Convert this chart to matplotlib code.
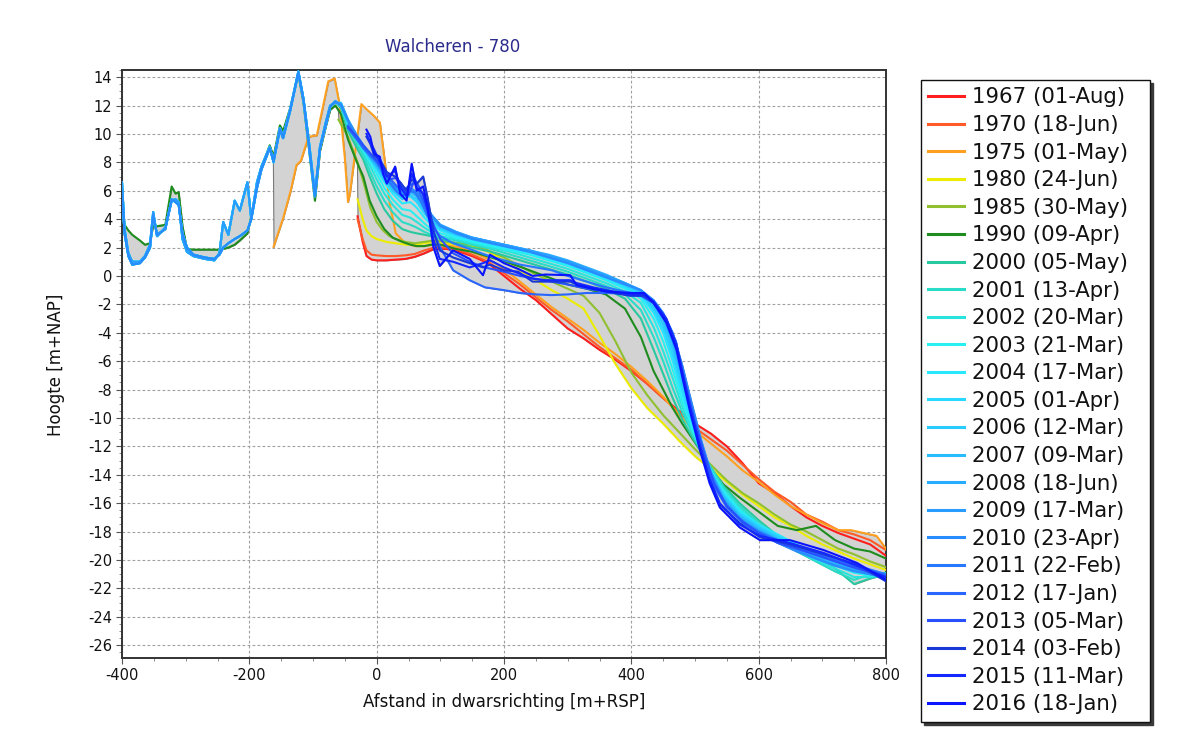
import numpy as np
import matplotlib
matplotlib.use('Agg')
import matplotlib.pyplot as plt
from matplotlib.lines import Line2D
from matplotlib.ticker import MultipleLocator

plt.rcParams['axes.unicode_minus'] = False
plt.rcParams['font.family'] = ['DejaVu Sans']

# ---------------- data ----------------
labels = ["1967 (01-Aug)", "1970 (18-Jun)", "1975 (01-May)", "1980 (24-Jun)",
          "1985 (30-May)", "1990 (09-Apr)", "2000 (05-May)", "2001 (13-Apr)",
          "2002 (20-Mar)", "2003 (21-Mar)", "2004 (17-Mar)", "2005 (01-Apr)",
          "2006 (12-Mar)", "2007 (09-Mar)", "2008 (18-Jun)", "2009 (17-Mar)",
          "2010 (23-Apr)", "2011 (22-Feb)", "2012 (17-Jan)", "2013 (05-Mar)",
          "2014 (03-Feb)", "2015 (11-Mar)", "2016 (18-Jan)"]
colors = ['#ff1e1e', '#ff5a28', '#ffa020', '#ecec00', '#90c030', '#1e8c1e',
          '#28c8a0', '#28dcc8', '#28e4dc', '#28f0f0', '#28e8ff', '#28d8ff',
          '#28ccff', '#28bcff', '#28acff', '#289cff', '#288cff', '#2878ff',
          '#2866ff', '#2850ff', '#1838d8', '#1428ff', '#0a14ff']

# dune part (shared x positions)
dune_x = [-400, -396, -390, -384, -372, -364, -356, -351, -345, -332, -322, -316,
          -311, -305, -298, -288, -270, -255, -247, -241, -233, -223, -215, -203,
          -197, -188, -181, -168, -162, -152, -147, -136, -123, -115, -106, -97,
          -89, -80, -73, -65]
dune_cyan_a = [6.0, 3.0, 1.4, 0.8, 0.9, 1.3, 2.0, 4.3, 2.9, 3.3, 5.4, 5.2,
               5.0, 3.0, 2.0, 1.5, 1.3, 1.2, 1.5, 2.0, 2.3, 2.6, 2.8, 3.2,
               4.0, 6.2, 7.5, 9.0, 8.1, 10.3, 9.7, 11.6, 14.3, 12.4, 9.0, 5.6,
               9.0, 10.6, 11.9, 12.3]
dune_cyan_b = [6.6, 3.3, 1.6, 1.0, 1.0, 1.4, 2.2, 4.5, 2.8, 3.4, 5.3, 5.4,
               5.2, 2.6, 1.7, 1.4, 1.2, 1.1, 1.6, 3.8, 2.9, 5.3, 4.6, 6.6,
               4.0, 6.6, 7.7, 9.1, 8.0, 10.4, 9.8, 11.7, 14.4, 12.5, 9.3, 5.8,
               9.1, 10.8, 12.0, 12.2]
dune_1990 = [5.3, 3.6, 3.2, 2.9, 2.5, 2.2, 2.3, 3.6, 3.5, 3.6, 6.3, 5.8,
             5.9, 3.5, 1.9, 1.85, 1.85, 1.85, 1.85, 1.9, 2.0, 2.2, 2.5, 3.0,
             4.2, 6.3, 7.6, 9.2, 8.4, 10.6, 10.2, 11.8, 14.2, 12.2, 8.8, 5.3,
             8.8, 10.5, 11.7, 12.0]

# seaward part for 1990 and 2000-2010
sea_x = [-56, -45, -31, -21, -11, 0, 12, 25, 40, 53, 63, 75, 86, 100, 125,
         150, 180, 210, 240, 270, 300, 330, 360, 390, 415, 435, 450, 465, 480,
         495, 510, 525, 545, 570, 600, 630, 660, 690, 720, 750, 775, 800]
sea_1990 = [11.4, 9.6, 8.0, 7.0, 5.3, 4.2, 3.3, 2.7, 2.4, 2.2, 2.1, 2.1, 2.2, 2.2, 1.9,
            1.7, 1.3, 0.9, 0.4, -0.1, -0.6, -0.9, -1.3, -2.3, -4.3, -6.7, -8.0, -9.3, -10.4,
            -11.4, -12.4, -13.6, -14.7, -15.6, -16.6, -17.6, -17.9, -17.6, -18.6, -19.2, -19.4, -19.9]
sea_2000 = [11.8, 10.2, 9.0, 8.2, 7.0, 5.8, 4.7, 3.9, 3.3, 3.1, 3.0, 2.9, 2.8, 2.6, 2.3,
            2.0, 1.7, 1.3, 0.9, 0.5, 0.1, -0.4, -0.9, -1.6, -3.0, -5.2, -6.9, -8.6, -10.1,
            -11.3, -12.4, -13.5, -14.8, -16.0, -17.2, -18.3, -19.2, -19.9, -20.6, -21.7, -21.3, -21.0]
sea_2001 = [12.0, 10.5, 9.3, 8.5, 7.4, 6.3, 5.3, 4.5, 3.8, 3.6, 3.4, 3.1, 2.9, 2.7, 2.5,
            2.2, 1.9, 1.5, 1.1, 0.7, 0.3, -0.2, -0.7, -1.3, -2.4, -4.3, -6.0, -7.9, -9.6,
            -11.0, -12.3, -13.5, -14.9, -16.2, -17.4, -18.4, -19.4, -20.1, -20.8, -21.4, -21.0, -20.9]
sea_2002 = [11.9, 10.6, 9.5, 8.7, 7.8, 6.8, 5.8, 5.0, 4.3, 4.1, 3.8, 3.4, 3.1, 2.8, 2.6,
            2.3, 2.0, 1.7, 1.3, 0.9, 0.5, 0.0, -0.5, -1.1, -1.9, -3.6, -5.3, -7.2, -9.2,
            -10.9, -12.4, -13.7, -15.1, -16.4, -17.5, -18.5, -19.3, -20.0, -20.6, -21.2, -21.2, -21.1]
sea_2003 = [12.1, 10.8, 9.6, 8.9, 8.1, 7.2, 6.2, 5.4, 4.7, 4.6, 4.2, 3.7, 3.3, 3.0, 2.7,
            2.4, 2.1, 1.8, 1.5, 1.1, 0.7, 0.2, -0.3, -0.9, -1.6, -3.0, -4.6, -6.6, -8.8,
            -10.6, -12.3, -13.7, -15.2, -16.5, -17.6, -18.4, -19.1, -19.8, -20.4, -20.9, -21.1, -21.2]
sea_2004 = [12.0, 10.7, 9.7, 9.0, 8.3, 7.5, 6.6, 5.8, 5.1, 5.2, 4.8, 4.1, 3.6, 3.2, 2.8,
            2.5, 2.2, 1.9, 1.6, 1.2, 0.8, 0.3, -0.2, -0.8, -1.4, -2.6, -4.0, -6.0, -8.4,
            -10.4, -12.2, -13.8, -15.3, -16.6, -17.5, -18.2, -18.9, -19.6, -20.3, -20.8, -21.0, -21.3]
sea_2005 = [12.1, 10.9, 9.8, 9.0, 8.4, 7.7, 6.9, 6.1, 5.5, 5.6, 5.2, 4.4, 3.8, 3.3, 2.9,
            2.6, 2.3, 2.0, 1.7, 1.3, 0.9, 0.4, -0.1, -0.7, -1.3, -2.4, -3.7, -5.6, -8.0,
            -10.2, -12.1, -13.8, -15.4, -16.7, -17.6, -18.3, -19.0, -19.7, -20.3, -20.7, -21.0, -21.2]
sea_2006 = [12.0, 10.8, 9.7, 9.0, 8.3, 7.6, 6.8, 6.0, 5.4, 5.7, 5.4, 4.6, 3.9, 3.4, 2.9,
            2.6, 2.3, 2.0, 1.7, 1.4, 1.0, 0.5, 0.0, -0.6, -1.2, -2.2, -3.4, -5.2, -7.6,
            -9.9, -12.0, -13.8, -15.5, -16.8, -17.7, -18.4, -19.1, -19.7, -20.2, -20.6, -20.9, -21.1]
sea_2007 = [12.2, 11.0, 9.8, 9.1, 8.5, 7.9, 7.0, 6.2, 5.6, 5.9, 5.6, 4.8, 4.0, 3.5, 3.0,
            2.7, 2.4, 2.1, 1.8, 1.4, 1.0, 0.5, 0.0, -0.5, -1.1, -2.0, -3.1, -4.8, -7.2,
            -9.6, -11.9, -13.8, -15.6, -16.9, -17.8, -18.5, -19.2, -19.8, -20.3, -20.6, -20.8, -21.0]
sea_2008 = [12.0, 10.9, 9.7, 9.0, 8.4, 7.8, 7.0, 6.3, 5.7, 6.0, 5.7, 5.0, 4.2, 3.6, 3.1,
            2.7, 2.4, 2.1, 1.8, 1.5, 1.1, 0.6, 0.1, -0.5, -1.0, -1.9, -2.9, -4.5, -6.9,
            -9.4, -11.8, -13.8, -15.7, -17.0, -17.9, -18.6, -19.3, -19.8, -20.3, -20.7, -20.9, -21.1]
sea_2009 = [12.1, 11.0, 9.9, 9.2, 8.6, 8.0, 7.2, 6.4, 5.8, 6.1, 5.8, 5.1, 4.3, 3.6, 3.1,
            2.7, 2.4, 2.1, 1.8, 1.4, 1.0, 0.5, 0.0, -0.5, -1.0, -1.8, -2.7, -4.2, -6.6,
            -9.2, -11.7, -13.9, -15.8, -17.1, -18.0, -18.7, -19.3, -19.9, -20.4, -20.7, -21.0, -21.2]
sea_2010 = [12.0, 10.9, 9.8, 9.2, 8.6, 8.0, 7.3, 6.5, 5.9, 6.2, 5.9, 5.2, 4.3, 3.5, 3.0,
            2.6, 2.3, 2.0, 1.7, 1.3, 0.9, 0.4, -0.1, -0.6, -1.0, -1.7, -2.6, -4.0, -6.3,
            -9.0, -11.6, -13.9, -15.9, -17.2, -18.1, -18.8, -19.4, -19.9, -20.4, -20.8, -21.0, -21.3]

# 1967, 1970, 1980 (profiles start near the dune foot)
foot_x = [-30, -22, -16, -8, 0, 15, 30, 45, 60, 75, 90, 110, 130, 150, 175, 200, 225,
          250, 275, 300, 325, 350, 375, 400, 425, 450, 475, 500, 525, 550, 575, 600,
          625, 650, 675, 700, 725, 750, 775, 800]
y_1967 = [4.2, 2.4, 1.4, 1.15, 1.1, 1.1, 1.15, 1.2, 1.35, 1.6, 1.9, 1.9, 1.7, 1.4, 0.9, 0.0, -0.9,
          -1.7, -2.7, -3.7, -4.4, -5.2, -5.9, -6.7, -7.6, -8.6, -9.5, -10.4, -11.1, -12.0, -13.2, -14.6,
          -15.3, -16.2, -17.0, -17.6, -18.1, -18.5, -18.9, -19.7]
y_1970 = [4.0, 2.6, 1.8, 1.5, 1.45, 1.4, 1.4, 1.45, 1.55, 1.8, 2.0, 2.0, 1.8, 1.5, 1.0, 0.2, -0.6,
          -1.5, -2.4, -3.2, -4.1, -5.0, -5.8, -6.6, -7.6, -8.6, -9.6, -10.7, -11.5, -12.3, -13.3, -14.3,
          -15.2, -15.9, -16.8, -17.3, -17.9, -18.2, -18.6, -19.3]
y_1980 = [5.4, 4.0, 3.2, 2.8, 2.6, 2.4, 2.3, 2.2, 2.2, 2.3, 2.4, 2.3, 2.2, 2.1, 1.7, 1.1, 0.4,
          -0.3, -1.0, -1.6, -2.3, -4.2, -6.2, -7.9, -9.3, -10.4, -11.6, -12.7, -13.6, -14.5, -15.4, -16.2,
          -17.0, -17.6, -18.3, -18.9, -19.4, -19.9, -20.3, -20.7]

# 1975
x_1975 = [-162, -147, -135, -126, -119, -107, -94, -84, -76, -66, -58, -50, -45, -42, -32,
          -24, -15, -5, 5, 13, 20, 30, 45, 60, 75, 90, 110, 130, 150, 175, 200, 225, 250,
          275, 300, 325, 350, 375, 400, 425, 450, 475, 500, 525, 550, 575, 600, 625, 650,
          675, 700, 725, 745, 765, 785, 800]
y_1975 = [2.05, 4.05, 6.0, 7.8, 8.1, 9.8, 9.9, 12.0, 13.7, 13.9, 12.0, 8.3, 5.2, 5.8, 9.3,
          12.1, 11.7, 11.3, 10.8, 8.0, 5.2, 3.0, 2.3, 2.1, 2.1, 2.2, 2.2, 2.0, 1.7, 1.2, 0.5, -0.4, -1.3,
          -2.2, -3.0, -3.8, -4.7, -5.5, -6.4, -7.4, -8.5, -9.8, -10.9, -11.8, -12.7, -13.7, -14.5, -15.4, -16.2,
          -16.8, -17.4, -17.9, -17.9, -18.1, -18.3, -19.2]

# 1985
x_1985 = [-60, -45, -30, -20, -10, 0, 10, 20, 30, 45, 60, 75, 90, 110, 130, 150, 175, 200,
          225, 250, 275, 300, 325, 350, 375, 400, 425, 450, 475, 500, 525, 550, 575, 600,
          625, 650, 675, 700, 725, 750, 775, 800]
y_1985 = [11.0, 9.8, 8.0, 6.5, 4.8, 3.8, 3.2, 2.8, 2.6, 2.4, 2.3, 2.4, 2.5, 2.4, 2.3, 2.2, 1.8, 1.3,
          0.7, 0.1, -0.4, -0.9, -1.4, -2.6, -4.6, -6.8, -8.4, -9.8, -11.0, -12.2, -13.3, -14.4, -15.3, -16.0,
          -16.8, -17.5, -18.0, -18.6, -19.2, -19.6, -20.1, -20.5]

# 2011-2013
mid_x = [-45, -31, -21, -11, 0, 10, 20, 30, 40, 50, 60, 70, 80, 90, 100, 120, 146, 170,
         200, 225, 250, 275, 300, 330, 360, 390, 415, 435, 455, 470, 485, 500, 515, 530,
         550, 575, 600, 630, 660, 700, 740, 770, 800]
y_2011 = [10.6, 9.7, 9.0, 8.5, 8.0, 7.3, 6.6, 6.0, 5.6, 6.0, 5.9, 5.2, 4.2, 3.3, 2.8, 2.3, 1.9, 1.5,
          1.1, 0.8, 0.6, 0.4, 0.0, -0.4, -0.8, -1.1, -1.3, -1.9, -3.2, -4.8, -7.8, -10.6, -12.9, -14.8,
          -16.2, -17.3, -18.0, -18.6, -19.0, -19.6, -20.2, -20.6, -21.0]
y_2012 = [10.4, 9.6, 9.0, 8.6, 8.2, 7.6, 6.9, 6.4, 6.0, 6.3, 6.6, 5.6, 4.5, 3.0, 2.0, 0.4, -0.3, -0.8,
          -1.0, -1.2, -1.3, -1.35, -1.3, -1.2, -1.2, -1.25, -1.3, -1.8, -3.1, -4.6, -7.6, -10.4, -12.8, -14.8,
          -16.3, -17.4, -18.1, -18.7, -19.1, -19.7, -20.3, -20.7, -21.1]
y_2013 = [10.5, 9.8, 9.2, 8.7, 8.1, 7.5, 6.8, 6.9, 6.2, 5.7, 6.8, 6.0, 4.8, 3.5, 2.6, 1.6, 1.0, 0.6,
          0.3, 0.0, -0.2, -0.4, -0.6, -0.9, -1.1, -1.3, -1.4, -1.9, -3.1, -4.7, -7.6, -10.3, -12.6, -14.6,
          -16.2, -17.3, -18.1, -18.8, -19.2, -19.8, -20.4, -20.8, -21.3]

# 2014-2016
late_x = [-16, -10, -4, 5, 10, 16, 29, 37, 47, 55, 63, 73, 80, 89, 99, 120, 146, 167, 178,
          200, 222, 245, 265, 304, 314, 340, 361, 398, 420, 435, 455, 471, 481, 492, 508,
          523, 539, 570, 602, 649, 702, 754, 800]
y_2014 = [9.8, 9.3, 8.5, 8.2, 7.8, 7.3, 7.0, 6.6, 6.0, 6.8, 6.5, 7.0, 5.5, 3.2, 1.8, 1.3, 0.9, 0.6, 0.8,
          0.4, 0.3, -0.4, -0.4, -0.4, -0.6, -0.9, -1.1, -1.4, -1.4, -1.9, -3.1, -5.0, -7.0, -9.3, -12.1,
          -14.4, -16.1, -17.4, -18.4, -18.9, -19.6, -20.3, -21.5]
y_2015 = [10.0, 9.4, 8.9, 8.0, 7.6, 7.0, 7.4, 6.3, 5.6, 7.2, 6.2, 5.8, 4.6, 2.6, 1.2, 1.0, 0.6, 0.9, 1.1,
          0.6, 0.2, -0.2, -0.3, -0.3, -0.5, -0.8, -1.0, -1.3, -1.3, -1.8, -3.0, -4.9, -7.0, -9.2, -12.0,
          -14.3, -16.0, -17.5, -18.3, -18.8, -19.5, -20.4, -21.2]
y_2016 = [10.3, 9.8, 8.6, 8.4, 7.2, 6.5, 7.7, 5.8, 5.3, 7.9, 6.0, 6.3, 4.9, 2.05, 0.7, 1.8, 1.2, 0.05, 1.5,
          0.9, 0.5, 0.0, 0.1, 0.05, -0.65, -0.9, -1.1, -1.2, -1.2, -1.9, -3.3, -5.2, -7.3, -9.5, -12.3,
          -14.6, -16.3, -17.7, -18.6, -18.6, -19.3, -20.2, -21.4]

# ---------------- assemble series ----------------
series_x = [foot_x, foot_x, x_1975, foot_x, x_1985, dune_x + sea_x] + \
           [dune_x + sea_x] * 11 + [mid_x] * 3 + [late_x] * 3
dunes = [dune_cyan_a, dune_cyan_b] * 6
seas = [sea_2000, sea_2001, sea_2002, sea_2003, sea_2004, sea_2005, sea_2006,
        sea_2007, sea_2008, sea_2009, sea_2010]
series_y = [y_1967, y_1970, y_1975, y_1980, y_1985, dune_1990 + sea_1990] + \
           [dunes[i] + seas[i] for i in range(11)] + \
           [y_2011, y_2012, y_2013, y_2014, y_2015, y_2016]
for sx, sy in zip(series_x, series_y):
    assert len(sx) == len(sy), (len(sx), len(sy))

# ---------------- figure ----------------
W, H = 1187, 742
fig = plt.figure(figsize=(W / 100, H / 100), dpi=100)
ax = fig.add_axes([122 / W, 1 - 658 / H, 764 / W, 588 / H])

# envelope (grey band between lowest and highest profile)
xs = np.arange(-400, 800.5, 1.0)
stack = np.array([np.interp(xs, sx, sy, left=np.nan, right=np.nan)
                  for sx, sy in zip(series_x, series_y)])
lo = np.nanmin(stack, axis=0)
hi = np.nanmax(stack, axis=0)
ax.fill_between(xs, lo, hi, facecolor='#d3d3d3', edgecolor='#7a7a7a',
                linewidth=0.8, zorder=2)

for sx, sy, c in zip(series_x, series_y, colors):
    ax.plot(sx, sy, color=c, lw=1.5, solid_joinstyle='round', zorder=3)

ax.set_xlim(-400, 800)
ax.set_ylim(-26.9, 14.5)
ax.xaxis.set_major_locator(MultipleLocator(200))
ax.xaxis.set_minor_locator(MultipleLocator(50))
ax.yaxis.set_major_locator(MultipleLocator(2))
ax.yaxis.set_minor_locator(MultipleLocator(0.5))
ax.grid(True, which='major', color='#a0a0a0', linestyle=(0, (2.5, 2)), lw=0.8)
ax.set_axisbelow(True)
ax.tick_params(which='major', direction='out', length=4, width=0.8,
               color='#555555', labelsize=10.5, labelcolor='#111111', pad=3)
ax.tick_params(which='minor', direction='out', length=2, width=0.6,
               color='#777777')
for s in ax.spines.values():
    s.set_color('#333333')
    s.set_linewidth(1.4)

fig.text(453 / W, 1 - 47 / H, 'Walcheren - 780', ha='center', va='center',
         color='#2b2b8c', fontsize=12)
fig.text(504 / W, 1 - 702 / H, 'Afstand in dwarsrichting [m+RSP]', ha='center',
         va='center', color='#111111', fontsize=12)
fig.text(56 / W, 1 - 365 / H, 'Hoogte [m+NAP]', ha='center', va='center',
         rotation=90, color='#111111', fontsize=12)

handles = [Line2D([], [], color=c, lw=2.2) for c in colors]
leg = fig.legend(handles, labels, loc='upper left', mode='expand',
                 bbox_to_anchor=(921 / W, 1 - 718 / H, 229 / W, 638 / H),
                 bbox_transform=fig.transFigure,
                 fontsize=15.3, frameon=True, fancybox=False,
                 shadow={'color': '#3a3a3a', 'alpha': 1.0},
                 borderpad=0.35, labelspacing=0.357, handlelength=1.65,
                 handletextpad=0.4, borderaxespad=0)
leg.get_frame().set_edgecolor('#111111')
leg.get_frame().set_linewidth(1.0)
leg.get_frame().set_alpha(1)
for t in leg.get_texts():
    t.set_color('#111111')

fig.savefig('out.png', dpi=100)
